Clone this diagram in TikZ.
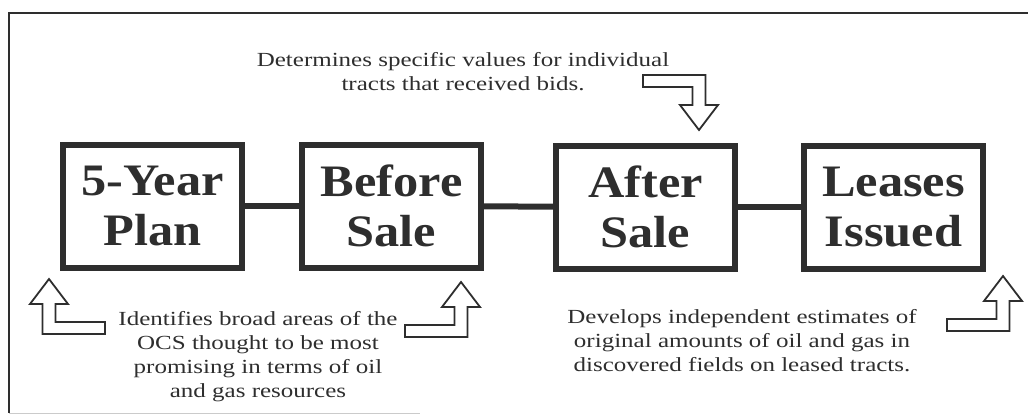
\documentclass[tikz,border=0pt]{standalone}
\usepackage{fontspec}
\setmainfont{Liberation Serif}
\newfontfamily\stagefont[FakeStretch=1.12]{Liberation Serif}
\newfontfamily\notefont[FakeStretch=1.25]{Liberation Serif}
\usetikzlibrary{positioning}
\definecolor{ink}{gray}{0.18}
\tikzset{
stage/.style = {draw=ink, line width=6pt, minimum width=179pt, minimum height=123pt,
                align=center, text=ink,
                font=\stagefont\bfseries\fontsize{45}{50}\selectfont},
note/.style = {align=center, text=ink, inner sep=0pt,
               font=\notefont\fontsize{20}{24}\selectfont},
hollow/.style = {draw=ink, line width=1.8pt, line join=miter, fill=white},
link/.style = {draw=ink, line width=6pt}
}

\begin{document}
\begin{tikzpicture}[x=1pt,y=-1pt]
  \useasboundingbox (0,0) rectangle (1028,415);
  \def\bent#1#2{%
    \draw[hollow,shift={(#1)},#2] (0,0) -- (19,25) -- (6.5,25) -- (6.5,55)
      -- (-56,55) -- (-56,43) -- (-6.5,43) -- (-6.5,25) -- (-19,25) -- cycle;
  }
  % frame
  \draw[ink,line width=1.5pt] (1028,13) -- (9,13) -- (9,413);
  \draw[ink!25] (9,413) -- (420,413);

  \node[stage] (plan)   at (152.5,206) {5-Year\\Plan};
  \node[stage] (before) at (391.5,206) {Before\\Sale};
  \node[stage] (after)  at (645.5,207) {After\\Sale};
  \node[stage] (issued) at (893.5,207) {Leases\\Issued};
  \foreach \a/\b in {plan/before,before/after,after/issued}
    \draw[link] (\a) -- (\b);

  \node[note] (bids)   at (463,72)  {Determines specific values for individual\\tracts that received bids.};
  \node[note] (ocs)    at (258,357) {Identifies broad areas of the\\OCS thought to be most\\promising in terms of oil\\and gas resources};
  \node[note] (fields) at (742,341) {Develops independent estimates of\\original amounts of oil and gas in\\discovered fields on leased tracts.};

  \bent{699,130}{yscale=-1}
  \bent{49,279}{xscale=-1}
  \bent{461,282}{}
  \bent{1003,276}{}
\end{tikzpicture}
\end{document}
